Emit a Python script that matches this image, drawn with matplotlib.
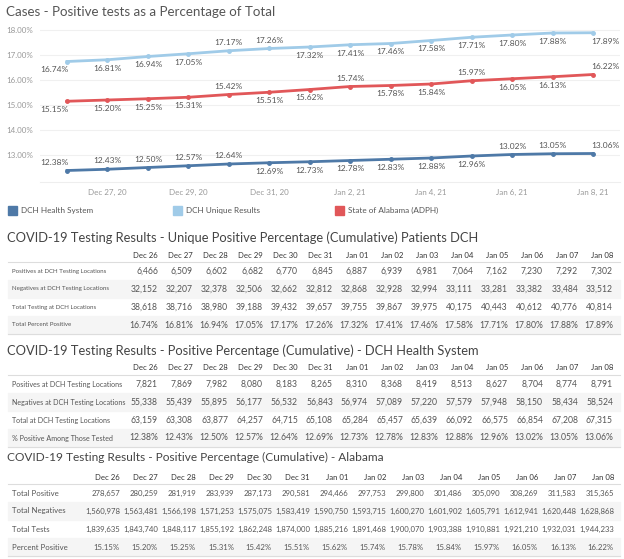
import matplotlib
matplotlib.use("Agg")
import matplotlib.pyplot as plt
from matplotlib.patches import Rectangle

plt.rcParams['font.family'] = ['Lato', 'DejaVu Sans']

days = ["Dec 26", "Dec 27", "Dec 28", "Dec 29", "Dec 30", "Dec 31", "Jan 01",
        "Jan 02", "Jan 03", "Jan 04", "Jan 05", "Jan 06", "Jan 07", "Jan 08"]
axis_ticks = [1, 3, 5, 7, 9, 11, 13]
axis_labels = ["Dec 27, 20", "Dec 29, 20", "Dec 31, 20", "Jan 2, 21",
               "Jan 4, 21", "Jan 6, 21", "Jan 8, 21"]

# DCH unique patients
uniq_pos = [6466, 6509, 6602, 6682, 6770, 6845, 6887, 6939, 6981, 7064, 7162, 7230, 7292, 7302]
uniq_neg = [32152, 32207, 32378, 32506, 32662, 32812, 32868, 32928, 32994, 33111, 33281, 33382, 33484, 33512]
uniq_tot = [38618, 38716, 38980, 39188, 39432, 39657, 39755, 39867, 39975, 40175, 40443, 40612, 40776, 40814]
uniq_pct = [16.74, 16.81, 16.94, 17.05, 17.17, 17.26, 17.32, 17.41, 17.46, 17.58, 17.71, 17.80, 17.88, 17.89]

# DCH health system
dch_pos = [7821, 7869, 7982, 8080, 8183, 8265, 8310, 8368, 8419, 8513, 8627, 8704, 8774, 8791]
dch_neg = [55338, 55439, 55895, 56177, 56532, 56843, 56974, 57089, 57220, 57579, 57948, 58150, 58434, 58524]
dch_tot = [63159, 63308, 63877, 64257, 64715, 65108, 65284, 65457, 65639, 66092, 66575, 66854, 67208, 67315]
dch_pct = [12.38, 12.43, 12.50, 12.57, 12.64, 12.69, 12.73, 12.78, 12.83, 12.88, 12.96, 13.02, 13.05, 13.06]

# Alabama (ADPH)
al_pos = [278657, 280259, 281919, 283939, 287173, 290581, 294466, 297753, 299800, 301486, 305090, 308269, 311583, 315365]
al_neg = [1560978, 1563481, 1566198, 1571253, 1575075, 1583419, 1590750, 1593715, 1600270, 1601902, 1605791, 1612941, 1620448, 1628868]
al_tot = [1839635, 1843740, 1848117, 1855192, 1862248, 1874000, 1885216, 1891468, 1900070, 1903388, 1910881, 1921210, 1932031, 1944233]
al_pct = [15.15, 15.20, 15.25, 15.31, 15.42, 15.51, 15.62, 15.74, 15.78, 15.84, 15.97, 16.05, 16.13, 16.22]

# label placement: 1 above point, -1 below
uniq_side = [-1, -1, -1, -1, 1, 1, -1, -1, -1, -1, -1, -1, -1, -1]
al_side = [-1, -1, -1, -1, 1, -1, -1, 1, -1, -1, 1, -1, -1, 1]
dch_side = [1, 1, 1, 1, 1, -1, -1, -1, -1, -1, -1, 1, 1, 1]

W, H = 624, 559
fig = plt.figure(figsize=(W / 100, H / 100), dpi=100)
fig.patch.set_facecolor("white")


def fx(x):
    return x / W


def fy(y):
    return 1 - y / H


TXT = "#555555"
DARK = "#4e79a7"
LIGHT = "#a0cbe8"
RED = "#e15759"

# ---- line chart ----
fig.text(fx(6), fy(12), "Cases - Positive tests as a Percentage of Total",
         fontsize=9.6, color="#555555", va="center")

ax = fig.add_axes([fx(40), fy(182), fx(580), 160 / H])
xs = list(range(len(days)))
for vals, col, sides in [(uniq_pct, LIGHT, uniq_side), (al_pct, RED, al_side), (dch_pct, DARK, dch_side)]:
    ax.plot(xs, vals, color=col, lw=2, marker="o", ms=2.5, zorder=3)
    for i, v in enumerate(vals):
        ha = "center"
        dx = 0
        if i == 0:
            ha, dx = "right", 1
        elif i == len(vals) - 1:
            ha, dx = "left", -1
        up = sides[i] > 0
        ax.annotate(f"{v:.2f}%", (i, v), xytext=(dx, 3.5 if up else -3.5), textcoords="offset points",
                    ha=ha, va="bottom" if up else "top", fontsize=6, color=TXT)

ax.set_xlim(-0.667, 13.667)
ax.set_ylim(11.92, 18.32)
ax.set_yticks([13, 14, 15, 16, 17, 18])
ax.set_yticklabels([f"{t:.2f}%" for t in [13, 14, 15, 16, 17, 18]])
ax.set_xticks(axis_ticks)
ax.set_xticklabels(axis_labels)
ax.tick_params(length=0, labelsize=5.8, labelcolor="#999999", pad=5)
ax.grid(axis="y", color="#f0f0f0", lw=0.8)
ax.set_axisbelow(True)
for s in ["top", "right", "left"]:
    ax.spines[s].set_visible(False)
ax.spines["bottom"].set_color("#eeeeee")

# legend
for x0, col, name in [(8, DARK, "DCH Health System"), (173, LIGHT, "DCH Unique Results"),
                      (335, RED, "State of Alabama (ADPH)")]:
    fig.add_artist(Rectangle((fx(x0), fy(215)), fx(9), 9 / H, color=col, transform=fig.transFigure))
    fig.text(fx(x0 + 13), fy(210.5), name, fontsize=5.9, color=TXT, va="center")


# ---- tables ----
def draw_table(title, ty, hy, rows, labels, first_right, step, title_size, lab_size, val_size):
    fig.text(fx(7), fy(ty), title, fontsize=title_size, color="#444444", va="center")
    for j, d in enumerate(days):
        fig.text(fx(first_right + j * step), fy(hy), d, fontsize=5.6, color="#333333",
                 ha="right", va="center")
    line_y = hy + 7
    fig.add_artist(plt.Line2D([fx(8), fx(620)], [fy(line_y), fy(line_y)], color="#dddddd",
                              lw=0.8, transform=fig.transFigure))
    rh = 18
    for r, (lab, vals) in enumerate(zip(labels, rows)):
        top = line_y + r * rh
        cy = top + rh / 2
        if r % 2 == 1:
            fig.add_artist(Rectangle((fx(8), fy(top + rh)), fx(612), rh / H, color="#f5f5f5",
                                     transform=fig.transFigure, zorder=0))
        fig.text(fx(12), fy(cy), lab, fontsize=lab_size, color=TXT, va="center")
        for j, v in enumerate(vals):
            s = f"{v:.2f}%" if r == 3 else f"{v:,}"
            fig.text(fx(first_right + j * step), fy(cy), s, fontsize=val_size, color=TXT,
                     ha="right", va="center")
    bot = line_y + 4 * rh
    fig.add_artist(plt.Line2D([fx(8), fx(620)], [fy(bot), fy(bot)], color="#dddddd",
                              lw=0.8, transform=fig.transFigure))


draw_table("COVID-19 Testing Results - Unique Positive Percentage (Cumulative) Patients DCH",
           238, 255, [uniq_pos, uniq_neg, uniq_tot, uniq_pct],
           ["Positives at DCH Testing Locations", "Negatives at DCH Testing Locations",
            "Total Testing at DCH Locations", "Total Percent Positive"],
           158, 35, 9.25, 4.4, 6.2)
draw_table("COVID-19 Testing Results - Positive Percentage (Cumulative) - DCH Health System",
           351, 368, [dch_pos, dch_neg, dch_tot, dch_pct],
           ["Positives at DCH Testing Locations", "Negatives at DCH Testing Locations",
            "Total at DCH Testing Locations", "% Positive Among Those Tested"],
           158, 35, 9.3, 5.1, 6.2)
draw_table("COVID-19 Testing Results - Positive Percentage (Cumulative) - Alabama",
           457, 477, [al_pos, al_neg, al_tot, al_pct],
           ["Total Positive", "Total Negatives", "Total Tests", "Percent Positive"],
           120, 38, 8.6, 5.6, 5.6)

fig.savefig("out.png", dpi=100)
